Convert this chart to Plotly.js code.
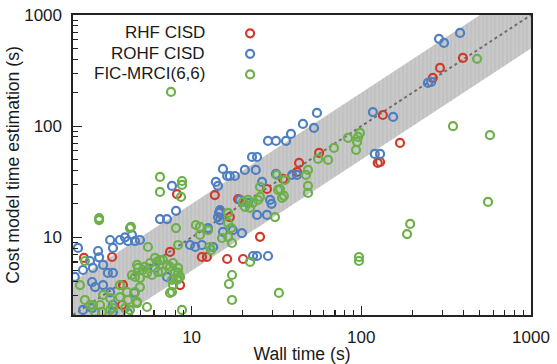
<!DOCTYPE html>
<html>
<head>
<meta charset="utf-8">
<script src="https://cdn.plot.ly/plotly-3.0.1.min.js"></script>
<style>html,body{margin:0;padding:0;background:#fff;}#chart{width:557px;height:364px;}</style>
</head>
<body>
<div id="chart"></div>
<script>
// ---- data (wall time s, cost-model estimate s) ----
const seriesNames = ['RHF CISD', 'ROHF CISD', 'FIC-MRCI(6,6)'];
const seriesColors = ['#d13a2a', '#4f7fc1', '#6db04a'];

const rhfWall = [397,291,264,134,169,56.4,43,125,129,41.8,34.6,27.8,18.8,13.7,8.2,25.3,11.5,12.3,16.2,20.1,14.7,16.8,2.32,3.40,3.94,3.89,8.55,7.46];
const rhfCost = [411,334,272,126,70.6,57.4,46.7,46.7,47.6,38.7,33.5,27.2,22.1,24.0,24.5,10.1,6.65,6.65,6.38,6.38,16.9,15.2,6.52,6.65,3.72,2.46,3.72,7.38];

const rohfWall = [382,287,307,247,258,117,154,54.8,45.3,52.6,38.5,36.0,31.4,28.2,120,129,39.1,41.8,22.7,24.3,15.3,20.6,23.9,16.2,16.8,18.0,13.9,14.3,26.0,31.4,29.0,7.66,8.09,6.51,7.16,14.5,14.7,19.3,21.5,24.3,27.8,19.8,17.5,9.78,10.5,11.5,13.4,23.0,24.3,28.2,14.3,14.7,29.6,15.3,12.5,
  2.14,2.81,2.85,3.31,3.78,3.44,4.05,4.45,4.22,4.64,2.05,2.29,2.62,3.01,3.21,3.44,2.70,2.59,3.01,3.31,3.44,2.29,3.44,4.22,2.59,2.52,4.96,4.6,7.16,6.08];
const rohfCost = [690,610,561,245,250,134,121,131.5,104.7,96.4,85.1,73.6,73.6,73.6,56.2,56.2,36.4,36.4,52.8,52.8,41.2,40.4,40.4,35.6,35.6,35.6,31.5,29.0,31.5,37.2,21.7,29.0,17.3,14.6,14.6,16.6,14.3,21.7,20.4,15.9,15.9,10.9,11.6,8.53,8.2,8.53,8.18,6.79,6.79,6.79,15.2,17.6,20.0,11.2,12.1,
  8.02,7.53,6.6,9.46,9.46,8.02,10.0,10.5,9.26,9.26,4.4,5.08,5.30,5.64,4.78,4.78,3.57,3.96,3.72,3.2,2.46,2.22,2.13,2.08,2.31,6.12,9.46,3.16,4.40,5.30];

const ficWall = [481,347,573,558,194,186,96.9,96.9,32.7,7.56,98.2,95.7,94.4,83.5,93.1,69,63.7,55.6,48.5,47.2,31.8,35.5,48.5,48.5,33.2,34.1,25.3,25.3,24.6,21.5,23.0,20.1,32.3,35,31.0,
  6.51,6.51,8.78,8.78,8.66,4.39,2.85,2.85,8.78,5.46,8.09,5.53,8.32,4.77,5.17,5.69,6.25,6.78,5.84,4.64,4.96,5.46,6.34,7.46,7.98,8.2,7.77,8.55,7.66,2.20,2.35,3.01,3.31,2.89,2.62,2.70,2.96,3.44,4.16,4.22,4.05,4.77,3.78,10.6,2.35,4.33,2.52,3.78,4.45,4.64,4.33,3.31,4.83,5.31,6.08,6.51,7.16,7.77,8.32,6.69,7.66,8.32,4.96,8.32,7.46,4.77,
  22.1,17.3,16.6,17.3,11.2,12.5,12.8,13.0,15.1,16.4,17.3,16.4,16.4,17.1,22.1,20.6,11.2];
const ficCost = [403,100,83,20.8,13.2,10.7,6.65,6.12,3.16,203,86.9,80,72.1,78.3,61.1,63.7,49.7,50.7,40.4,36.4,36.4,32.8,29.0,25.1,27.2,22.6,28.4,23.1,21.7,21.7,20.4,20.8,26.7,23.6,15.2,
  34.9,25.6,32.1,29.6,23.1,12.4,14.9,14.3,2.22,2.36,12.1,8.18,8.53,5.64,5.08,5.87,6.0,6.25,4.58,4.40,4.31,4.78,4.88,5.41,4.88,4.13,3.72,4.40,3.22,3.72,2.73,3.03,2.84,2.46,2.46,2.13,2.13,2.31,3.22,2.73,2.31,2.62,3.72,12.9,6.12,12.1,2.46,2.90,4.58,3.22,2.22,2.22,5.30,5.41,6.52,6.25,5.64,5.87,5.30,4.88,4.13,4.31,3.57,4.78,3.16,2.56,
  6.0,4.58,3.80,2.73,12.4,11.6,8.18,7.69,9.86,10.1,8.89,13.5,16.6,12.1,18.4,18.8,10.5];

// ideal line and factor-of-two band
const lineX = [2, 1000];
const bandFactor = 2;

const tickVals = [10, 100, 1000];
const minorVals = [2,3,4,5,6,7,8,9,20,30,40,50,60,70,80,90,200,300,400,500,600,700,800,900];

// ---- traces ----
const FONT = 'Liberation Sans, Arial, sans-serif';
const traces = [];
traces.push({x: lineX, y: lineX.map(v => v * bandFactor), mode: 'lines', line: {width: 0, color: 'rgba(0,0,0,0)'}, showlegend: false, hoverinfo: 'skip'});
traces.push({x: lineX, y: lineX.map(v => v / bandFactor), mode: 'lines', line: {width: 0, color: 'rgba(0,0,0,0)'}, fill: 'tonexty',
  fillcolor: '#c6c6c6', fillpattern: {shape: '|', bgcolor: '#c9c9c9', fgcolor: '#bcbcbc', size: 4, solidity: 0.25},
  showlegend: false, hoverinfo: 'skip'});
traces.push({x: lineX, y: lineX, mode: 'lines', line: {color: '#6e6e6e', width: 2, dash: '3px,3px'}, showlegend: false, hoverinfo: 'skip'});

const series = [[rhfWall, rhfCost], [rohfWall, rohfCost], [ficWall, ficCost]];
series.forEach((s, i) => {
  traces.push({x: s[0], y: s[1], mode: 'markers', name: seriesNames[i], showlegend: false,
    marker: {symbol: 'circle-open', size: 8, color: seriesColors[i], line: {width: 2.2, color: seriesColors[i]}}});
});
// legend-only entries (symbols); labels drawn as annotations to the left
series.forEach((s, i) => {
  traces.push({x: [null], y: [null], mode: 'markers', name: '', showlegend: true,
    marker: {symbol: 'circle-open', size: 8, color: seriesColors[i], line: {width: 2.2, color: seriesColors[i]}}});
});

const legendY = [0.942, 0.873, 0.805];
const annotations = seriesNames.map((n, i) => ({
  text: n, xref: 'paper', yref: 'paper', x: 0.2926, y: legendY[i], xanchor: 'right', yanchor: 'middle',
  showarrow: false, font: {family: FONT, size: 17, color: '#1a1a1a'}
}));

const axisCommon = {
  type: 'log', showgrid: false, zeroline: false,
  showline: true, linecolor: '#222', linewidth: 1.6, mirror: true,
  tickmode: 'array', tickvals: tickVals, ticktext: ['10', '100', '1000'],
  ticks: 'inside', ticklen: 9, tickwidth: 1.3, tickcolor: '#222',
  minor: {tickmode: 'array', tickvals: minorVals, ticks: 'inside', ticklen: 5, tickwidth: 1.1, tickcolor: '#222'},
  tickfont: {family: FONT, size: 17, color: '#1a1a1a'}
};

const layout = {
  width: 557, height: 364,
  margin: {l: 73, r: 26, t: 15, b: 49},
  paper_bgcolor: '#fff', plot_bgcolor: '#fff',
  xaxis: Object.assign({}, axisCommon, {range: [Math.log10(2), 3], ticklabelstandoff: 6,
    title: {text: 'Wall time (s)', font: {family: FONT, size: 17.6, color: '#1a1a1a'}, standoff: 2}}),
  yaxis: Object.assign({}, axisCommon, {range: [Math.log10(2), 3], ticklabelstandoff: 6,
    title: {text: 'Cost model time estimation (s)', font: {family: FONT, size: 17.6, color: '#1a1a1a'}, standoff: 0}}),
  showlegend: true,
  legend: {x: 0.343, y: 0.99, xanchor: 'left', yanchor: 'top', bgcolor: 'rgba(0,0,0,0)', traceorder: 'normal',
    font: {family: FONT, size: 13.5}, tracegroupgap: 0, itemwidth: 30},
  annotations: annotations
};

Plotly.newPlot('chart', traces, layout, {displayModeBar: false, staticPlot: true});
</script>
</body>
</html>
